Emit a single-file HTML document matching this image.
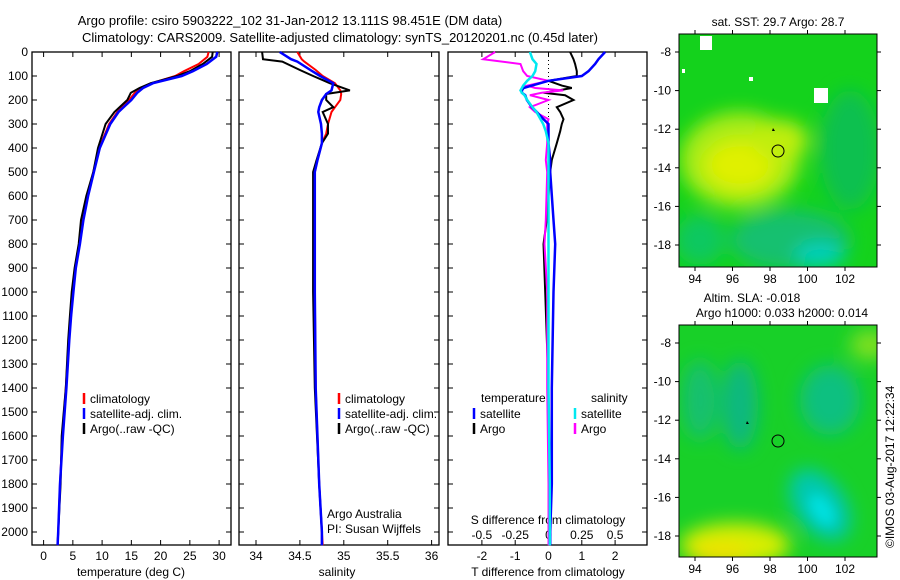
<!DOCTYPE html>
<html><head><meta charset="utf-8">
<style>
body{margin:0;background:#fff;}
svg{display:block;font-family:"Liberation Sans",sans-serif;}
text{font-size:12px;fill:#000;}
</style></head>
<body>
<svg id="chart" width="900" height="580" viewBox="0 0 900 580" xmlns="http://www.w3.org/2000/svg">
<defs>
<filter id="blur" x="-50%" y="-50%" width="200%" height="200%"><feGaussianBlur stdDeviation="9"/></filter>
<filter id="blur2" x="-50%" y="-50%" width="200%" height="200%"><feGaussianBlur stdDeviation="6"/></filter>
<clipPath id="m1clip"><rect x="679" y="34" width="198" height="233"/></clipPath>
<clipPath id="m2clip"><rect x="679" y="325" width="198" height="232"/></clipPath>
</defs>
<text x="290" y="25" text-anchor="middle" style="font-size:13px">Argo profile: csiro 5903222_102 31-Jan-2012 13.111S 98.451E (DM data)</text>
<text x="340" y="42" text-anchor="middle" style="font-size:13px">Climatology: CARS2009. Satellite-adjusted climatology: synTS_20120201.nc (0.45d later)</text>

<!-- map 1 -->
<g clip-path="url(#m1clip)">
<rect x="679" y="34" width="198" height="233" fill="#14d21c"/>
<g filter="url(#blur)">
<ellipse cx="740" cy="160" rx="60" ry="48" fill="#a8ec14"/>
<ellipse cx="740" cy="165" rx="35" ry="25" fill="#e0f000"/>
<ellipse cx="780" cy="140" rx="28" ry="20" fill="#c0ee10"/>
<ellipse cx="790" cy="240" rx="60" ry="30" fill="#18c070"/>
<ellipse cx="820" cy="255" rx="25" ry="12" fill="#00d0c0"/>
<ellipse cx="850" cy="150" rx="30" ry="60" fill="#10c050"/>
<ellipse cx="700" cy="240" rx="25" ry="25" fill="#10c860"/>
</g>
<rect x="700" y="36" width="12" height="14" fill="#fff"/>
<rect x="814" y="88" width="14" height="15" fill="#fff"/>
<rect x="749" y="77" width="4" height="4" fill="#fff"/>
<rect x="682" y="69" width="3" height="4" fill="#fff"/>
</g>
<rect x="679" y="34" width="198" height="233" fill="none" stroke="#000"/>
<text x="778" y="26" text-anchor="middle">sat. SST: 29.7 Argo: 28.7</text>
<circle cx="778" cy="151" r="6" fill="none" stroke="#000"/>
<path d="M773 128 l2 3 l-3 0z" fill="#000"/>

<!-- map 2 -->
<g clip-path="url(#m2clip)">
<rect x="679" y="325" width="198" height="232" fill="#18d028"/>
<g filter="url(#blur)">
<ellipse cx="740" cy="405" rx="18" ry="45" fill="#10b880"/>
<ellipse cx="700" cy="400" rx="18" ry="40" fill="#14c070"/>
<ellipse cx="830" cy="400" rx="30" ry="35" fill="#10c080"/>
<ellipse cx="820" cy="505" rx="25" ry="40" fill="#00c8b0" transform="rotate(-35 820 505)"/>
<ellipse cx="735" cy="545" rx="55" ry="22" fill="#d8ee00"/>
<ellipse cx="720" cy="555" rx="30" ry="12" fill="#f0e000"/>
<ellipse cx="870" cy="345" rx="20" ry="15" fill="#80e020"/>
</g>
<g filter="url(#blur2)">
<ellipse cx="822" cy="510" rx="10" ry="18" fill="#00e0e0" transform="rotate(-35 822 510)"/>
</g>
</g>
<rect x="679" y="325" width="198" height="232" fill="none" stroke="#000"/>
<text x="752" y="302" text-anchor="middle">Altim. SLA: -0.018</text>
<text x="782" y="317" text-anchor="middle">Argo h1000: 0.033 h2000: 0.014</text>
<circle cx="778" cy="441" r="6" fill="none" stroke="#000"/>
<path d="M747 421 l2 3 l-3 0z" fill="#000"/>
<text transform="translate(894,548) rotate(-90)" style="font-size:12px">©IMOS 03-Aug-2017 12:22:34</text>
<g id="mapaxes"></g>
<g id="plots"></g>
</svg>
<script>
// ---- data ----
const depthT = [0,20,50,80,100,130,150,170,200,250,300,400,500,600,700,800,900,1000,1100,1200,1400,1600,1800,2000,2055];
const tempClim = [28.2,28.0,26.5,24,22.5,18.5,16.8,15.6,14.6,12.6,11.2,9.5,8.5,7.5,6.7,6.1,5.5,5.0,4.7,4.3,3.8,3.2,2.8,2.5,2.4];
const tempSat  = [29.7,29.5,27.9,25.5,23.6,18.7,17.0,16.0,15.0,12.8,11.4,9.6,8.6,7.6,6.8,6.2,5.5,5.1,4.7,4.4,3.9,3.3,2.8,2.5,2.4];
const tempArgo = [28.9,28.8,27.2,25,22.8,18.3,16.4,14.9,14.3,12.1,10.6,9.3,8.5,7.3,6.4,6.0,5.3,4.8,4.5,4.2,3.8,3.1,2.9,2.5,2.4];

const depthS = [0,30,40,75,100,130,160,175,200,230,250,300,340,380,450,500,700,1000,1400,1800,2000,2055];
const salClim = [34.47,34.52,34.55,34.68,34.76,34.90,34.96,34.97,34.96,34.90,34.86,34.82,34.80,34.75,34.70,34.67,34.67,34.67,34.68,34.72,34.75,34.76];
const salSat  = [34.27,34.40,34.47,34.62,34.73,34.88,34.86,34.80,34.75,34.72,34.71,34.74,34.75,34.75,34.70,34.67,34.67,34.67,34.68,34.72,34.75,34.75];
const salArgo = [34.07,34.08,34.30,34.50,34.65,34.84,35.07,34.80,34.80,34.88,34.76,34.82,34.82,34.75,34.69,34.65,34.65,34.65,34.67,34.72,34.75,34.75];

const depthD = [0,30,50,80,100,120,140,150,160,170,180,200,230,250,280,300,330,380,450,500,700,800,1000,1400,1800,2000,2055];
const dTsat  = [1.7,1.5,1.4,1.2,1.0,0,-0.5,-0.75,-0.8,-0.8,-0.7,-0.65,-0.5,-0.35,-0.15,0,0,0,0.05,0.05,0.15,0.2,0.15,0.1,0.1,0.05,0.05];
const dTargo = [0.65,0.75,0.8,0.85,0.85,0,0.4,0.7,0.3,-0.15,0.5,0.75,0.25,0.35,0.45,0.4,0.35,0.25,0.1,0.05,-0.05,-0.15,-0.1,0,0,0,0];
const dSargo = [-0.4,-0.49,-0.21,-0.19,-0.16,0,-0.16,-0.1,0.11,-0.05,-0.14,0,-0.14,-0.1,0,-0.01,-0.01,-0.01,-0.02,-0.01,-0.02,-0.03,-0.01,-0.01,0,0,0];
const dSsat  = [-0.14,-0.12,-0.09,-0.1,-0.12,-0.16,-0.19,-0.2,-0.21,-0.2,-0.18,-0.16,-0.12,-0.09,-0.06,-0.04,-0.02,0,0,0,0,0,0,0,0.01,0.01,0.01];

const depthTicks = [0,100,200,300,400,500,600,700,800,900,1000,1100,1200,1300,1400,1500,1600,1700,1800,1900,2000];
const tempTicks = [0,5,10,15,20,25,30];
const salTicks = [34,34.5,35,35.5,36];
const salTickLabels = ['34','34.5','35','35.5','36'];
const tdTicks = [-2,-1,0,1,2];
const sdTicks = [-0.5,-0.25,0,0.25,0.5];
const lonTicks = [94,96,98,100,102];
const latTicks = [-8,-10,-12,-14,-16,-18];

// ---- scales ----
const Y = d => 52 + d*0.24;
const xT = t => 43.6 + t*5.85;
const xS = s => 256 + (s-34)*87.8;
const xTD = v => 548.5 + v*33.3;
const xSD = v => 548.5 + v*133.2;
const mapX = lon => 695 + (lon-94)*18.75;
const mapY1 = lat => 52 + (-8-lat)*19.3;
const mapY2 = lat => 343 + (-8-lat)*19.3;

const NS='http://www.w3.org/2000/svg';
const plots=document.getElementById('plots');
function mk(tag,attrs,parent){const e=document.createElementNS(NS,tag);for(const k in attrs)e.setAttribute(k,attrs[k]);(parent||plots).appendChild(e);return e;}
function txt(x,y,s,anchor,parent){const t=mk('text',{x:x,y:y,'text-anchor':anchor||'start'},parent);t.textContent=s;return t;}

const panels=[{x0:32,x1:231,name:'temperature-panel'},{x0:239,x1:439,name:'salinity-panel'},{x0:448,x1:647,name:'difference-panel'}];
panels.forEach(p=>{
  const r=mk('rect',{x:p.x0,y:52,width:p.x1-p.x0,height:493,fill:'none',stroke:'#000','stroke-width':1.3});
  
  
  depthTicks.forEach(d=>{
    mk('line',{x1:p.x0,x2:p.x0+5,y1:Y(d),y2:Y(d),stroke:'#000'});
    mk('line',{x1:p.x1-5,x2:p.x1,y1:Y(d),y2:Y(d),stroke:'#000'});
  });
});
depthTicks.forEach(d=>{
  const t=txt(28,Y(d)+4,String(d),'end');
  
  
});
function xticks(ticks,fx,labels){
  ticks.forEach((v,i)=>{
    const x=fx(v);
    mk('line',{x1:x,x2:x,y1:52,y2:57,stroke:'#000'});
    mk('line',{x1:x,x2:x,y1:540,y2:545,stroke:'#000'});
    const t=txt(x,560,labels[i],'middle');
    
    
  });
}
xticks(tempTicks,xT,tempTicks.map(String));
xticks(salTicks,xS,salTickLabels);
xticks(tdTicks,xTD,tdTicks.map(String));
sdTicks.forEach(v=>{
  const t=txt(xSD(v),539,String(v),'middle');
  
  
});
let t;
t=txt(131,576,'temperature (deg C)','middle');


t=txt(337,576,'salinity','middle');


t=txt(548,576,'T difference from climatology','middle');


t=txt(548,524,'S difference from climatology','middle');


t=txt(327,518,'Argo Australia');


t=txt(327,533,'PI: Susan Wijffels');



// zero dotted line
mk('line',{x1:xTD(0),x2:xTD(0),y1:52,y2:545,stroke:'#000','stroke-dasharray':'1,3'});

function line(depths,vals,fx,color,name,w){
  const pts=depths.map((d,i)=>fx(vals[i]).toFixed(1)+','+Y(d).toFixed(1)).join(' ');
  const p=mk('polyline',{points:pts,fill:'none',stroke:color,'stroke-width':w||2});
  
  
}
line(depthT,tempClim,xT,'#ff0000','temp-climatology-line');
line(depthT,tempArgo,xT,'#000000','temp-argo-line');
line(depthT,tempSat,xT,'#0000ff','temp-satellite-line',2.5);
line(depthS,salClim,xS,'#ff0000','sal-climatology-line');
line(depthS,salArgo,xS,'#000000','sal-argo-line');
line(depthS,salSat,xS,'#0000ff','sal-satellite-line',2.5);
line(depthD,dTargo,xTD,'#000000','tdiff-argo-line');
line(depthD,dSargo,xSD,'#ff00ff','sdiff-argo-line');
line(depthD,dTsat,xTD,'#0000ff','tdiff-satellite-line',2.5);
line(depthD,dSsat,xSD,'#00e8f0','sdiff-satellite-line',2.5);

function legend(x,y,color,label){
  const l=mk('line',{x1:x,x2:x,y1:y-10,y2:y+1,stroke:color,'stroke-width':2.5});
  
  
  const tt=txt(x+6,y,label);
  
  
}
[84,339].forEach(x=>{
  legend(x,403,'#ff0000','climatology');
  legend(x,418,'#0000ff','satellite-adj. clim.');
  legend(x,433,'#000000','Argo(..raw -QC)');
});
t=txt(481,402,'temperature');


t=txt(591,402,'salinity');


legend(474,418,'#0000ff','satellite');
legend(474,433,'#000000','Argo');
legend(575,418,'#00e8f0','satellite');
legend(575,433,'#ff00ff','Argo');

// map axes
const ma=document.getElementById('mapaxes');
[[34,267,mapY1,'sst'],[325,557,mapY2,'sla']].forEach(([y0,y1,fy,nm])=>{
  lonTicks.forEach(v=>{
    const x=mapX(v);
    mk('line',{x1:x,x2:x,y1:y0,y2:y0-4,stroke:'#000'},ma);
    mk('line',{x1:x,x2:x,y1:y1,y2:y1+4,stroke:'#000'},ma);
    const tt=txt(x,y1+16,String(v),'middle',ma);
    
    
  });
  latTicks.forEach(v=>{
    const y=fy(v);
    mk('line',{x1:679,x2:675,y1:y,y2:y,stroke:'#000'},ma);
    mk('line',{x1:877,x2:881,y1:y,y2:y,stroke:'#000'},ma);
    const tt=txt(671,y+4,String(v),'end',ma);
    
    
  });
});
</script>
</body></html>
